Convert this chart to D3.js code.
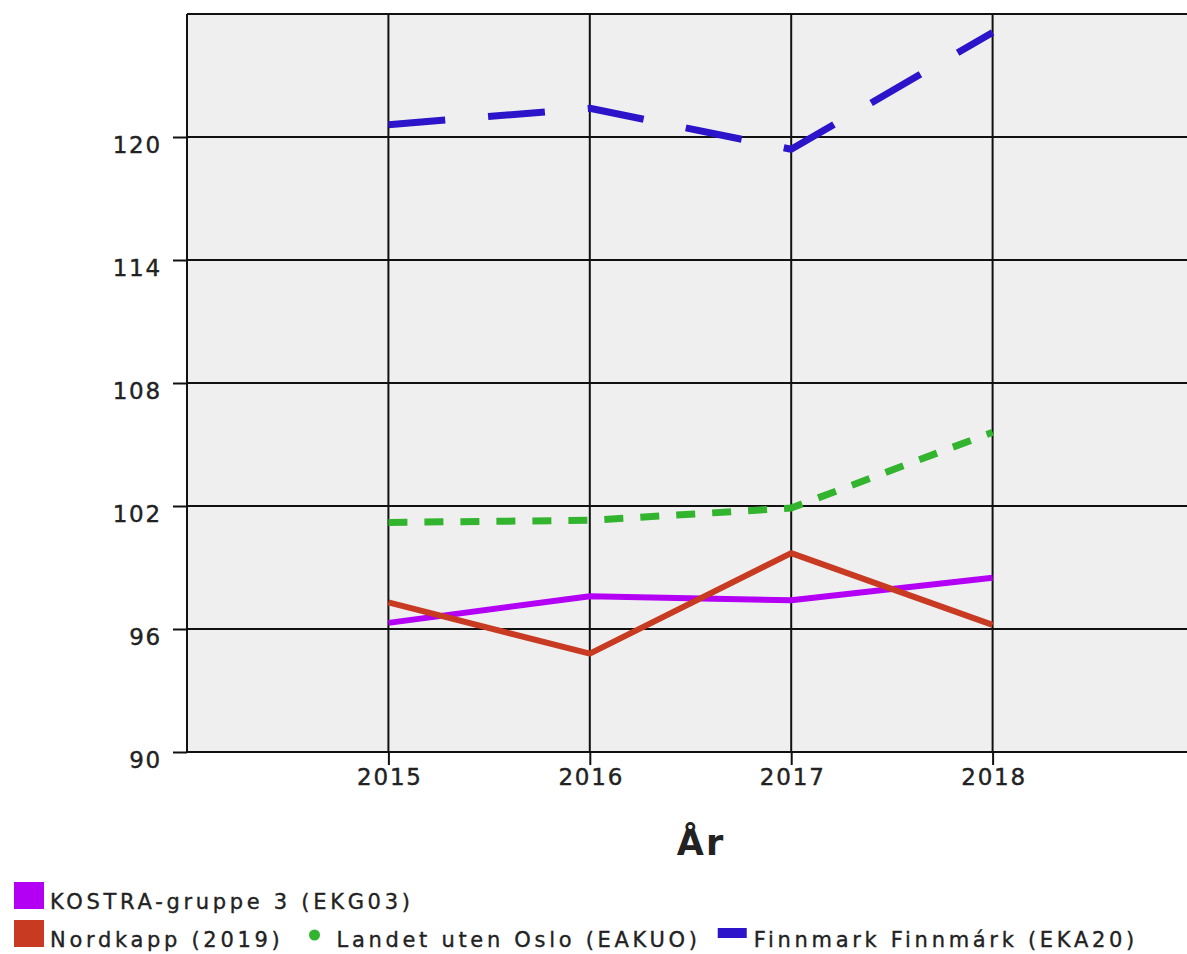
<!DOCTYPE html>
<html>
<head>
<meta charset="utf-8">
<script src="https://cdn.jsdelivr.net/npm/d3@7"></script>
<style>
  body { margin: 0; background: #fff; }
  text { font-family: "DejaVu Sans", Verdana, sans-serif; fill: #222; }
</style>
</head>
<body>
<div id="my_dataviz"></div>
<script>
// data
const years = [2015, 2016, 2017, 2018];
const yTicks = [90, 96, 102, 108, 114, 120];
const seriesNames = [
  "KOSTRA-gruppe 3 (EKG03)",
  "Nordkapp (2019)",
  "Landet uten Oslo (EAKUO)",
  "Finnmark Finnmárk (EKA20)"
];
const kostraValues = [96.3, 97.6, 97.4, 98.5];
const nordkappValues = [97.3, 94.8, 99.7, 96.2];
const landetValues = [101.2, 101.3, 101.9, 105.6];
const finnmarkValues = [120.6, 121.4, 119.4, 125.1];
const xTitle = "År";

const seriesColors = ["#b300f5", "#c83a22", "#33b42e", "#2b14c9"];
const seriesDash = [null, null, "19,17", "57,43"];
const seriesWidth = [6, 6, 7, 7];
const legendSymbols = ["square", "square", "dot", "bar"];
const legendRows = [[0], [1, 2, 3]];

let width = 1187;
let height = 954;
let plot = { left: 187, top: 14, right: 1194, bottom: 752 };

var svg = d3
  .select("#my_dataviz")
  .append("svg")
  .attr("width", width)
  .attr("height", height);

let x = d3.scaleLinear().domain([2014, 2019]).range([plot.left, plot.right]);
let y = d3.scaleLinear().domain([90, 126]).range([plot.bottom, plot.top]);

const series = seriesNames.map(function(name, i) {
  const vals = [kostraValues, nordkappValues, landetValues, finnmarkValues][i];
  return { name: name, values: years.map((yr, j) => ({ year: yr, value: vals[j] })) };
});

// plot background
svg
  .append("rect")
  .attr("x", plot.left)
  .attr("y", plot.top)
  .attr("width", plot.right - plot.left)
  .attr("height", plot.bottom - plot.top)
  .attr("fill", "#efefef");

// grid lines
svg
  .append("g")
  .selectAll("line")
  .data(yTicks.concat([126]))
  .enter()
  .append("line")
  .attr("x1", plot.left)
  .attr("x2", plot.right)
  .attr("y1", d => y(d))
  .attr("y2", d => y(d))
  .attr("stroke", "#111")
  .attr("stroke-width", 2);

svg
  .append("g")
  .selectAll("line")
  .data([2014].concat(years, [2019]))
  .enter()
  .append("line")
  .attr("x1", d => x(d))
  .attr("x2", d => x(d))
  .attr("y1", plot.top)
  .attr("y2", plot.bottom)
  .attr("stroke", "#111")
  .attr("stroke-width", 2);

// axes
let yAxis = svg
  .append("g")
  .attr("transform", "translate(" + plot.left + ",0)")
  .call(d3.axisLeft(y).tickValues(yTicks).tickSize(14).tickSizeOuter(0).tickPadding(10));

let xAxis = svg
  .append("g")
  .attr("transform", "translate(0," + plot.bottom + ")")
  .call(
    d3.axisBottom(x).tickValues(years).tickFormat(d3.format("d")).tickSize(13).tickSizeOuter(0).tickPadding(4)
  );

[yAxis, xAxis].forEach(function(ax) {
  ax.select(".domain").remove();
  ax.selectAll(".tick line").attr("stroke", "#111").attr("stroke-width", 2);
  ax.selectAll(".tick text")
    .style("font-size", "23px")
    .style("letter-spacing", "1.8px")
    .style("font-family", '"DejaVu Sans", Verdana, sans-serif')
    .attr("fill", "#222")
    .attr("stroke", "#222")
    .attr("stroke-width", 0.4);
});
yAxis.selectAll(".tick text").attr("x", -25).attr("y", 8);
xAxis.selectAll(".tick text").attr("dx", "1px");

// axis title
svg
  .append("text")
  .attr("x", 701)
  .attr("y", 855)
  .attr("text-anchor", "middle")
  .style("font-size", "35px")
  .style("font-weight", "bold")
  .style("letter-spacing", "2px")
  .text(xTitle);

// the lines
let line = d3
  .line()
  .x(d => x(d.year))
  .y(d => y(d.value));

svg
  .append("g")
  .selectAll("path")
  .data(series)
  .enter()
  .append("path")
  .attr("d", d => line(d.values))
  .attr("fill", "none")
  .attr("stroke", (d, i) => seriesColors[i])
  .attr("stroke-width", (d, i) => seriesWidth[i])
  .attr("stroke-dasharray", (d, i) => seriesDash[i])
  .attr("stroke-linejoin", "round");

// legend, flowing left to right in rows
let legend = svg.append("g").attr("class", "legend");
legendRows.forEach(function(row, r) {
  let baseline = 909 + r * 38;
  let cursor = 14;
  row.forEach(function(idx) {
    let sym = legendSymbols[idx];
    let textX;
    if (sym == "square") {
      legend.append("rect")
        .attr("x", cursor).attr("y", baseline - 27)
        .attr("width", 30).attr("height", 27)
        .attr("fill", seriesColors[idx]);
      textX = cursor + 36;
    } else if (sym == "dot") {
      legend.append("circle")
        .attr("cx", cursor + 11).attr("cy", baseline - 12)
        .attr("r", 5.5)
        .attr("fill", seriesColors[idx]);
      textX = cursor + 33;
    } else {
      legend.append("rect")
        .attr("x", cursor - 3).attr("y", baseline - 19)
        .attr("width", 29).attr("height", 10)
        .attr("fill", seriesColors[idx]);
      textX = cursor + 33;
    }
    let t = legend.append("text")
      .attr("x", textX)
      .attr("y", baseline)
      .attr("stroke", "#222")
      .attr("stroke-width", 0.35)
      .style("font-size", "21px")
      .style("letter-spacing", "3.7px")
      .text(seriesNames[idx]);
    cursor = textX + t.node().getComputedTextLength() + 20;
  });
});
</script>
</body>
</html>
